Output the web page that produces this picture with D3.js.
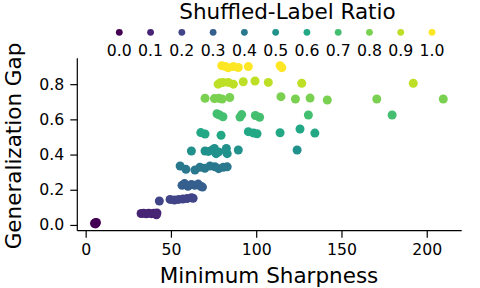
<!DOCTYPE html>
<html>
<head>
<meta charset="utf-8">
<script src="https://d3js.org/d3.v7.min.js"></script>
<style>
  body { margin: 0; background: #fff; }
  text { font-family: "DejaVu Sans", sans-serif; fill: #000; }
</style>
</head>
<body>
<svg id="chart" width="480" height="288"></svg>
<script>
// legend / colour categories
var ratios = [0.0, 0.1, 0.2, 0.3, 0.4, 0.5, 0.6, 0.7, 0.8, 0.9, 1.0];
var xTicks = [0, 50, 100, 150, 200];
var yTicks = [0.0, 0.2, 0.4, 0.6, 0.8];

// [minimum sharpness, generalization gap] per shuffled-label ratio
var r00 = [[5.2,0.008],[5.6,0.012],[6.0,0.010],[6.3,0.014],[5.8,0.006]];
var r01 = [[32.5,0.065],[34,0.066],[35.5,0.063],[37,0.067],[38.5,0.064],[40,0.066],[41.5,0.058],[41.8,0.068]];
var r02 = [[43.2,0.136],[49.5,0.145],[52,0.142],[54.5,0.145],[57,0.147],[59.5,0.150],[62,0.155],[63,0.152]];
var r03 = [[56.5,0.225],[58,0.235],[60,0.220],[62,0.230],[64,0.225],[66,0.232],[67.5,0.220],[68.5,0.215]];
var r04 = [[55.4,0.335],[58.8,0.316],[64.1,0.312],[67,0.328],[69.9,0.322],[72.9,0.335],[75.8,0.331],[78,0.320],[80.7,0.328],[83,0.330]];
var r05 = [[62,0.420],[70,0.420],[72,0.418],[74,0.425],[75.5,0.435],[76.5,0.405],[78,0.415],[82.5,0.435],[83,0.405],[89.5,0.426],[124,0.426]];
var r06 = [[67.5,0.525],[70,0.517],[79.4,0.510],[95.4,0.530],[98.5,0.522],[100.5,0.518],[114,0.524],[125.7,0.545],[134.4,0.522]];
var r07 = [[77,0.632],[78.5,0.625],[80.5,0.615],[90.5,0.613],[91.5,0.627],[99.5,0.622],[102,0.612],[130.6,0.625],[179.7,0.625]];
var r08 = [[70,0.720],[75.5,0.718],[78,0.720],[80,0.716],[84.5,0.724],[114.5,0.729],[123,0.716],[131.6,0.721],[141.7,0.710],[170.7,0.716],[209.7,0.716]];
var r09 = [[77.7,0.800],[79,0.808],[80.7,0.810],[83.6,0.810],[86.6,0.800],[92.4,0.814],[99.3,0.818],[107.1,0.810],[126.7,0.805],[192.1,0.805]];
var r10 = [[79.8,0.905],[82,0.900],[83.6,0.893],[86.6,0.900],[89.5,0.895],[95.4,0.900],[114,0.905],[115,0.894]];
var groups = [r00, r01, r02, r03, r04, r05, r06, r07, r08, r09, r10];

var svg = d3.select("#chart");
var plotL = 77.3, plotR = 461.7, plotT = 58.3, plotB = 230.7;

var x = d3.scaleLinear().domain([-4.9, 220.5]).range([plotL, plotR]);
var y = d3.scaleLinear().domain([-0.0327, 0.947]).range([plotB, plotT]);
var color = d3.scaleSequential(d3.interpolateViridis).domain([0, 1]);

// points, one group per ratio (higher ratios drawn on top)
groups.forEach(function(pts, i) {
  svg.append("g").selectAll("circle")
    .data(pts)
    .enter().append("circle")
    .attr("cx", d => x(d[0]))
    .attr("cy", d => y(d[1]))
    .attr("r", 4.5)
    .attr("fill", color(ratios[i]));
});

// axes (left + bottom only)
var xAxis = svg.append("g")
  .attr("transform", "translate(0," + plotB + ")")
  .call(d3.axisBottom(x).tickValues(xTicks).tickSize(7).tickPadding(6).tickSizeOuter(0));
var yAxis = svg.append("g")
  .attr("transform", "translate(" + plotL + ",0)")
  .call(d3.axisLeft(y).tickValues(yTicks).tickFormat(d3.format(".1f")).tickSize(7).tickPadding(6).tickSizeOuter(0));

[xAxis, yAxis].forEach(function(a) {
  a.select(".domain").attr("stroke", "#000").attr("stroke-width", 1.2);
  a.selectAll(".tick line").attr("stroke", "#000").attr("stroke-width", 1.2);
  a.selectAll(".tick text").style("font-family", "DejaVu Sans").style("font-size", "15.7px").attr("fill", "#000");
});
xAxis.select(".domain").attr("d", "M" + plotL + ",0H" + plotR);
yAxis.select(".domain").attr("d", "M0," + plotB + "V" + plotT);

svg.append("text")
  .attr("x", (plotL + plotR) / 2 - 0.5)
  .attr("y", 282.5)
  .attr("text-anchor", "middle")
  .style("font-size", "21.5px")
  .text("Minimum Sharpness");

svg.append("text")
  .attr("transform", "translate(20.5,146) rotate(-90)")
  .attr("text-anchor", "middle")
  .style("font-size", "21.5px")
  .text("Generalization Gap");

// legend
var lg = svg.append("g");
lg.append("text")
  .attr("x", 287.5)
  .attr("y", 19)
  .attr("text-anchor", "middle")
  .style("font-size", "21.5px")
  .text("Shuffled-Label Ratio");

var item = lg.selectAll(".item")
  .data(ratios)
  .enter().append("g")
  .attr("class", "item")
  .attr("transform", (d, i) => "translate(" + (119.3 + i * 31.27) + ",0)");
item.append("circle")
  .attr("cy", 32.3)
  .attr("r", 3.4)
  .attr("fill", d => color(d));
item.append("text")
  .attr("y", 55.5)
  .attr("text-anchor", "middle")
  .style("font-size", "15.7px")
  .text(d => d.toFixed(1));
</script>
</body>
</html>
